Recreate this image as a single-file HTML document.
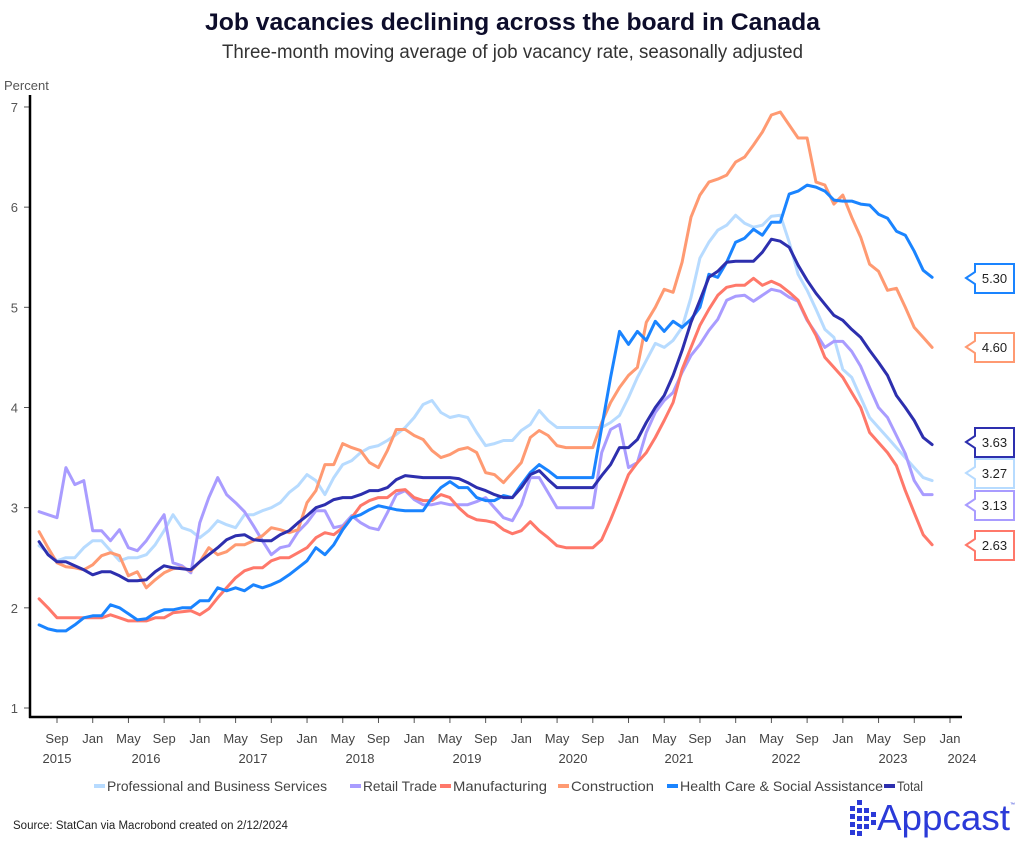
<!DOCTYPE html>
<html><head><meta charset="utf-8">
<style>
html,body{margin:0;padding:0;background:#fff;}
body{width:1024px;height:844px;overflow:hidden;font-family:"Liberation Sans",sans-serif;}
svg{display:block}
</style></head>
<body>
<svg id="c" width="1024" height="844" viewBox="0 0 1024 844" xmlns="http://www.w3.org/2000/svg" font-family="Liberation Sans, sans-serif">
<text x="205" y="30" textLength="615" lengthAdjust="spacingAndGlyphs" font-size="24" font-weight="bold" fill="#0d0d2b">Job vacancies declining across the board in Canada</text>
<text x="222" y="58" textLength="581" lengthAdjust="spacingAndGlyphs" font-size="19" fill="#333">Three-month moving average of job vacancy rate, seasonally adjusted</text>
<text x="4" y="90" font-size="13" fill="#555">Percent</text>
<g id="yax" font-size="13" fill="#555" text-anchor="end"></g>
<g id="xax" font-size="13" fill="#444" text-anchor="middle"></g>
<g id="lines" fill="none" stroke-width="3" stroke-linejoin="round" stroke-linecap="round"></g>
<line x1="30" y1="95" x2="30" y2="718" stroke="#000" stroke-width="2.5"/>
<line x1="29" y1="717" x2="962" y2="717" stroke="#000" stroke-width="2.5"/>
<g id="tags" font-size="13" fill="#222"></g>
<g id="legend" font-size="14" fill="#444"></g>
<text x="13" y="829" font-size="11.5" fill="#222">Source: StatCan via Macrobond created on 2/12/2024</text>
<g id="logo" fill="#2b3ad8"></g>
<text x="877" y="830" textLength="133" lengthAdjust="spacingAndGlyphs" font-size="36" fill="#2b3ad8">Appcast</text>
<text x="1010" y="806" font-size="5" fill="#2b3ad8">™</text>
</svg>
<script>
var NS="http://www.w3.org/2000/svg";
function el(p,t,a,txt){var e=document.createElementNS(NS,t);for(var k in a)e.setAttribute(k,a[k]);if(txt!==undefined)e.textContent=txt;p.appendChild(e);return e;}
function X(i){return 39.1+8.93*i;}
function Y(v){return 708-(v-1)*100.17;}
var yax=document.getElementById('yax');
for(var v=1;v<=7;v++){var y=Y(v);el(yax,'text',{x:18,y:y+5},String(v));el(yax,'line',{x1:24,y1:y,x2:30,y2:y,stroke:'#555','stroke-width':1});}
var xax=document.getElementById('xax');
for(var k=0;k<=25;k++){var x=57+35.72*k;var m=['Sep','Jan','May'][k%3];
el(xax,'line',{x1:x,y1:718,x2:x,y2:723,stroke:'#555','stroke-width':1});
el(xax,'text',{x:x,y:743},m);}
var yrs=[[57,'2015'],[146,'2016'],[253,'2017'],[360,'2018'],[467,'2019'],[573,'2020'],[679,'2021'],[786,'2022'],[893,'2023'],[962,'2024']];
yrs.forEach(function(a){el(xax,'text',{x:a[0],y:763},a[1]);});

var S={
prof:{c:'#b7dbff',d:[2.62,2.55,2.47,2.5,2.5,2.6,2.67,2.67,2.57,2.47,2.5,2.5,2.53,2.63,2.77,2.93,2.8,2.77,2.7,2.77,2.87,2.83,2.8,2.93,2.93,2.97,3.0,3.05,3.15,3.22,3.33,3.27,3.13,3.3,3.43,
3.47,3.55,3.6,3.62,3.67,3.73,3.8,3.9,4.03,4.07,3.95,3.9,3.92,3.9,3.75,3.62,3.64,3.67,3.67,3.77,3.83,3.97,3.87,3.8,3.8,3.8,3.8,3.8,3.8,3.85,3.92,
4.1,4.3,4.47,4.64,4.6,4.67,4.8,5.1,5.49,5.65,5.77,5.82,5.92,5.84,5.8,5.82,5.91,5.92,5.65,5.33,5.17,4.98,4.78,4.7,4.38,4.3,4.1,3.9,3.8,3.7,3.6,3.5,3.4,3.3,3.27]},
retail:{c:'#a99cff',d:[2.96,2.93,2.9,3.4,3.23,3.27,2.77,2.77,2.67,2.78,2.6,2.57,2.67,2.8,2.93,2.45,2.42,2.35,2.85,3.1,3.3,3.13,3.05,2.96,2.82,2.67,2.53,2.6,2.62,2.76,2.85,2.97,2.97,2.8,2.82,
2.92,2.85,2.8,2.78,2.95,3.13,3.17,3.08,3.03,3.03,3.05,3.03,3.03,3.03,3.06,3.1,3.0,2.9,2.87,3.03,3.3,3.3,3.15,3.0,3.0,3.0,3.0,3.0,3.55,3.78,3.83,
3.4,3.45,3.75,3.95,4.07,4.15,4.35,4.52,4.63,4.77,4.88,5.07,5.11,5.12,5.06,5.12,5.18,5.16,5.1,5.06,4.87,4.74,4.6,4.66,4.66,4.56,4.41,4.2,4.0,3.9,3.72,3.54,3.27,3.13,3.13]},
mfg:{c:'#ff786a',d:[2.09,2.0,1.9,1.9,1.9,1.9,1.9,1.9,1.93,1.9,1.87,1.87,1.87,1.9,1.9,1.95,1.96,1.97,1.93,1.99,2.1,2.2,2.3,2.37,2.4,2.4,2.47,2.5,2.5,2.55,2.6,2.7,2.75,2.73,2.8,
2.9,3.02,3.07,3.1,3.1,3.17,3.18,3.1,3.07,3.07,3.13,3.1,3.0,2.92,2.88,2.87,2.85,2.78,2.74,2.77,2.86,2.77,2.7,2.62,2.6,2.6,2.6,2.6,2.68,2.88,3.1,
3.33,3.45,3.55,3.7,3.87,4.05,4.38,4.6,4.82,4.98,5.12,5.2,5.22,5.22,5.29,5.22,5.26,5.22,5.15,5.07,4.88,4.72,4.5,4.4,4.3,4.15,4.0,3.75,3.65,3.55,3.42,3.17,2.95,2.73,2.63]},
constr:{c:'#ff9a72',d:[2.76,2.6,2.45,2.41,2.4,2.38,2.43,2.52,2.55,2.52,2.32,2.36,2.2,2.28,2.35,2.39,2.4,2.37,2.46,2.6,2.53,2.56,2.63,2.63,2.67,2.72,2.8,2.78,2.75,2.78,3.05,3.17,3.43,3.43,3.64,
3.6,3.57,3.45,3.4,3.57,3.78,3.78,3.72,3.68,3.57,3.5,3.53,3.58,3.6,3.55,3.35,3.33,3.25,3.35,3.45,3.7,3.77,3.72,3.62,3.6,3.6,3.6,3.6,3.85,4.05,4.2,
4.32,4.4,4.85,5.0,5.18,5.15,5.45,5.9,6.12,6.25,6.28,6.32,6.45,6.5,6.62,6.75,6.92,6.95,6.82,6.69,6.69,6.25,6.22,6.03,6.12,5.9,5.7,5.43,5.36,5.17,5.19,5.0,4.8,4.7,4.6]},
hc:{c:'#1a84ff',d:[1.83,1.79,1.77,1.77,1.83,1.9,1.92,1.92,2.03,2.0,1.94,1.88,1.89,1.95,1.98,1.98,2.0,2.0,2.07,2.07,2.2,2.17,2.2,2.17,2.23,2.2,2.23,2.27,2.33,2.4,2.47,2.6,2.53,2.63,2.78,
2.9,2.93,2.98,3.02,3.0,2.98,2.97,2.97,2.97,3.1,3.2,3.26,3.2,3.2,3.1,3.07,3.07,3.12,3.1,3.23,3.35,3.43,3.37,3.3,3.3,3.3,3.3,3.3,3.8,4.3,4.76,
4.63,4.76,4.67,4.86,4.76,4.86,4.8,4.88,5.0,5.33,5.3,5.45,5.65,5.69,5.78,5.72,5.85,5.85,6.13,6.16,6.22,6.2,6.16,6.07,6.06,6.06,6.03,6.02,5.93,5.89,5.76,5.72,5.56,5.37,5.3]},
total:{c:'#2d2fae',d:[2.66,2.53,2.46,2.46,2.42,2.38,2.33,2.36,2.36,2.32,2.27,2.27,2.28,2.36,2.42,2.40,2.39,2.38,2.46,2.53,2.6,2.68,2.72,2.73,2.68,2.67,2.67,2.73,2.77,2.85,2.92,3.0,3.03,3.08,3.1,
3.1,3.13,3.17,3.17,3.2,3.28,3.32,3.31,3.3,3.3,3.3,3.3,3.29,3.25,3.2,3.17,3.13,3.1,3.1,3.2,3.33,3.37,3.28,3.2,3.2,3.2,3.2,3.2,3.32,3.43,3.6,
3.6,3.68,3.85,4.0,4.12,4.32,4.57,4.85,5.07,5.3,5.36,5.45,5.46,5.46,5.46,5.55,5.68,5.66,5.6,5.42,5.27,5.14,5.03,4.92,4.87,4.78,4.7,4.57,4.45,4.32,4.12,4.0,3.87,3.7,3.63]}
};
var lines=document.getElementById('lines');
['prof','retail','mfg','constr','hc','total'].forEach(function(k){var s=S[k];var p=s.d.map(function(v,i){return X(i).toFixed(1)+','+Y(v).toFixed(1);}).join(' ');
el(lines,'polyline',{points:p,stroke:s.c});});
var tags=document.getElementById('tags');
[[278,'5.30','#1a84ff'],[347,'4.60','#ff9a72'],[442,'3.63','#2d2fae'],[473,'3.27','#b7dbff'],[505,'3.13','#a99cff'],[545,'2.63','#ff786a']].forEach(function(t){
var y=t[0];var d='M966,'+y+' L975,'+(y-6)+' L975,'+(y-14)+' L1014,'+(y-14)+' L1014,'+(y+15)+' L975,'+(y+15)+' L975,'+(y+6)+' Z';
el(tags,'path',{d:d,fill:'#fff',stroke:t[2],'stroke-width':2});
el(tags,'text',{x:994.5,y:y+5,'text-anchor':'middle'},t[1]);});
var lg=document.getElementById('legend');
var items=[['Professional and Business Services','#b7dbff',107,220],['Retail Trade','#a99cff',363,74],['Manufacturing','#ff786a',453,94],['Construction','#ff9a72',571,83],['Health Care & Social Assistance','#1a84ff',680,203],['Total','#2d2fae',897,26]];
items.forEach(function(it){var x=it[2];el(lg,'rect',{x:x-13,y:784,width:11,height:4,fill:it[1]});el(lg,'text',{x:x,y:791,textLength:it[3],lengthAdjust:'spacingAndGlyphs'},it[0]);});
var logo=document.getElementById('logo');
[[850,806],[850,814],[850,822],[857,800],[857,808],[857,816],[857,824],[864,808],[864,816],[864,824],[871,812],[871,820],[857,831],[850,830]].forEach(function(p){el(logo,'rect',{x:p[0],y:p[1],width:5,height:5});});
</script>
</body></html>
